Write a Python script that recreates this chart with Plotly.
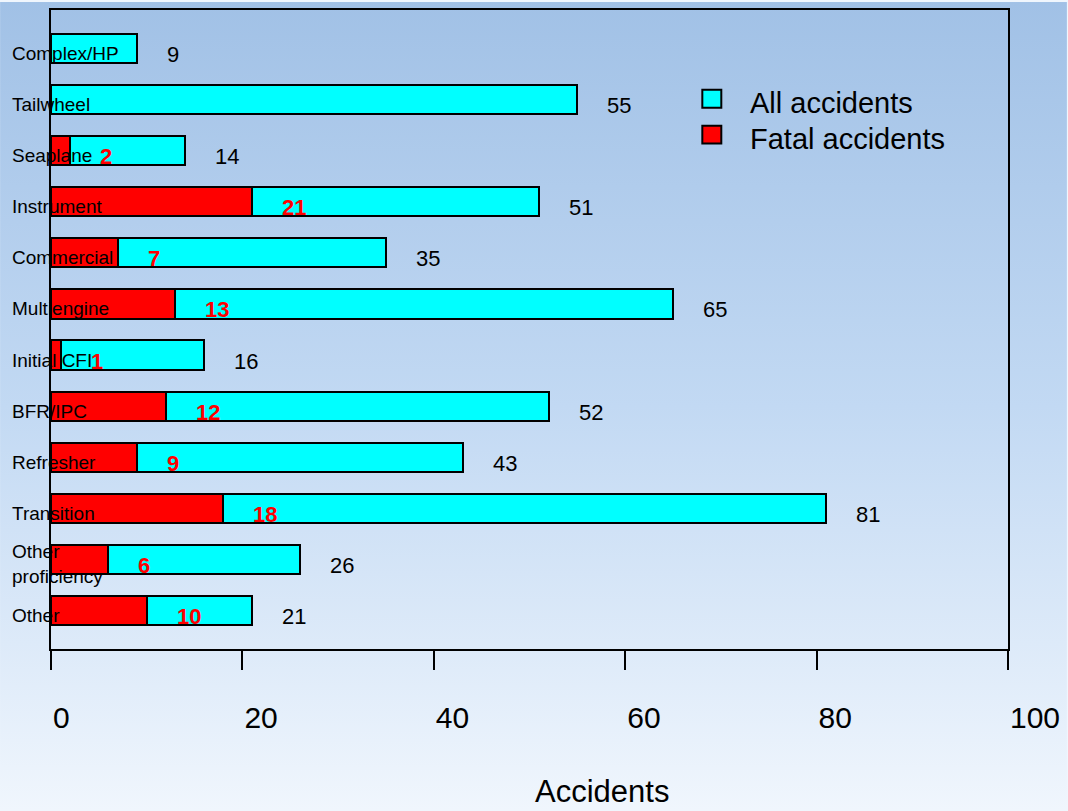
import base64
import plotly.graph_objects as go

# Training categories, listed top to bottom
categories = ["Complex/HP", "Tailwheel", "Seaplane", "Instrument", "Commercial",
              "Multiengine", "Initial CFI", "BFR/IPC", "Refresher", "Transition",
              "Other<br>proficiency", "Other"]
all_accidents = [9, 55, 14, 51, 35, 65, 16, 52, 43, 81, 26, 21]
fatal_accidents = [0, 0, 2, 21, 7, 13, 1, 12, 9, 18, 6, 10]
x_ticks = [0, 20, 40, 60, 80, 100]
series_names = ["All accidents", "Fatal accidents"]
series_colors = ["#00FFFF", "#FF0000"]

FONT = "Liberation Sans, Arial, sans-serif"
W, H = 1068, 811
L, R, T, B = 51, 59, 8, 162
pw, ph = W - L - R, H - T - B


def px_x(px):
    """Page pixel column -> paper x."""
    return (px - L) / pw


def px_y(py):
    """Page pixel row -> paper y."""
    return (T + ph - py) / ph


n = len(categories)
ypos = list(range(n - 1, -1, -1))  # first category at the top

fig = go.Figure()
fig.add_trace(go.Bar(
    y=ypos, x=all_accidents, orientation="h", name=series_names[0],
    width=0.57, showlegend=False,
    marker=dict(color=series_colors[0], line=dict(color="black", width=2)),
))
fig.add_trace(go.Bar(
    y=ypos, x=[v if v > 0 else None for v in fatal_accidents], orientation="h",
    name=series_names[1], width=0.57, showlegend=False,
    marker=dict(color=series_colors[1], line=dict(color="black", width=2)),
))

annotations = []
for cat, y, tot, fat in zip(categories, ypos, all_accidents, fatal_accidents):
    annotations.append(dict(
        x=px_x(10), xref="paper", y=y, yref="y", text=cat, showarrow=False,
        xanchor="left", yanchor="middle", align="left", yshift=-5,
        font=dict(family=FONT, size=19, color="black")))
    annotations.append(dict(
        x=tot, y=y, text=str(tot), showarrow=False, xanchor="left",
        yanchor="middle", xshift=28, yshift=-6,
        font=dict(family=FONT, size=22, color="black")))
    if fat > 0:
        annotations.append(dict(
            x=fat, y=y, text=f"<b>{fat}</b>", showarrow=False, xanchor="left",
            yanchor="middle", xshift=28, yshift=-6,
            font=dict(family=FONT, size=22, color="#FF0000")))

# Axis title
annotations.append(dict(
    x=px_x(603), xref="paper", y=px_y(792), yref="paper",
    text="Accidents", showarrow=False, xanchor="center", yanchor="middle",
    font=dict(family=FONT, size=31, color="black")))

# Legend: outlined colour keys with labels
shapes = []
for i, (name, color) in enumerate(zip(series_names, series_colors)):
    cy = 97 + 36 * i
    shapes.append(dict(
        type="rect", xref="paper", yref="paper",
        x0=px_x(703), x1=px_x(722), y0=px_y(cy - 9), y1=px_y(cy + 9),
        fillcolor=color, line=dict(color="black", width=2)))
    annotations.append(dict(
        x=px_x(749), xref="paper", y=px_y(cy + 4), yref="paper",
        text=name, showarrow=False, xanchor="left", yanchor="middle",
        font=dict(family=FONT, size=29, color="black")))

# Vertical blue-to-white page background
svg = (
    '<svg xmlns="http://www.w3.org/2000/svg" width="100" height="100" preserveAspectRatio="none">'
    '<defs><linearGradient id="g" x1="0" y1="0" x2="0" y2="1">'
    '<stop offset="0" stop-color="#A1C1E6"/>'
    '<stop offset="0.5" stop-color="#C2D9F3"/>'
    '<stop offset="1" stop-color="#F0F6FD"/>'
    '</linearGradient></defs>'
    '<rect width="100" height="100" fill="url(#g)"/></svg>'
)
bg_src = "data:image/svg+xml;base64," + base64.b64encode(svg.encode()).decode()

fig.update_layout(
    width=W, height=H,
    margin=dict(l=L, r=R, t=T, b=B, pad=0),
    paper_bgcolor="#F0F6FD",
    plot_bgcolor="rgba(0,0,0,0)",
    barmode="overlay",
    bargap=0,
    font=dict(family=FONT, color="black"),
    showlegend=False,
    xaxis=dict(
        range=[0, 100], tickvals=x_ticks, ticktext=[str(t) for t in x_ticks],
        ticks="outside", ticklen=19, tickwidth=2, tickcolor="black",
        ticklabelposition="outside right", ticklabelstandoff=41,
        tickfont=dict(family=FONT, size=30, color="black"),
        showline=True, linecolor="black", linewidth=2, mirror=True,
        showgrid=False, zeroline=False, fixedrange=True,
    ),
    yaxis=dict(
        range=[-0.76, n - 1 + 0.76], showticklabels=False, ticks="",
        showline=True, linecolor="black", linewidth=2, mirror=True,
        showgrid=False, zeroline=False, fixedrange=True,
    ),
    annotations=annotations,
    shapes=shapes,
    images=[dict(
        source=bg_src, xref="paper", yref="paper",
        x=-L / pw, y=1 + T / ph, sizex=W / pw, sizey=H / ph,
        xanchor="left", yanchor="top", sizing="stretch", layer="below",
    )],
)

fig.write_html("out.html")
